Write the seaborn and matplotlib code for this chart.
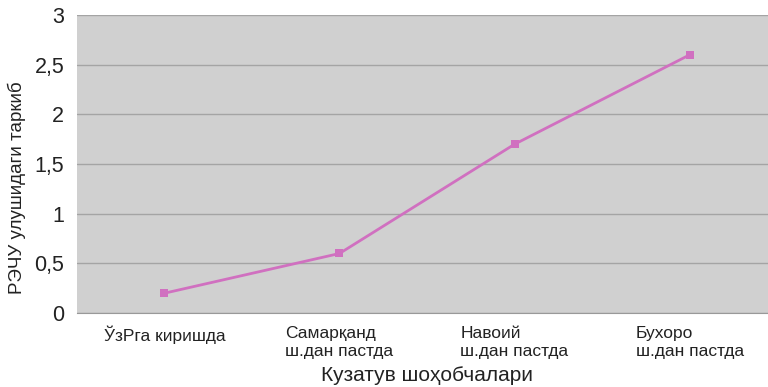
import pandas as pd
import matplotlib.pyplot as plt
import seaborn as sns

# data
stations = ['ЎзРга киришда', 'Самарқанд\nш.дан пастда', 'Навоий\nш.дан пастда', 'Бухоро\nш.дан пастда']
values = [0.2, 0.6, 1.7, 2.6]
yticks = [0, 0.5, 1, 1.5, 2, 2.5, 3]
ytick_labels = ['0', '0,5', '1', '1,5', '2', '2,5', '3']

df = pd.DataFrame({'station': range(len(stations)), 'value': values})

sns.set_style('white')
plt.rcParams['font.family'] = ['Liberation Sans', 'DejaVu Sans']

fig = plt.figure(figsize=(7.68, 3.87), dpi=100)
ax = fig.add_axes([0.1, 0.191, 0.912, 0.77])
ax.set_facecolor('#d0d0d0')

sns.lineplot(data=df, x='station', y='value', ax=ax, color='#d070c0',
             linewidth=2, marker='s', markersize=6, markeredgewidth=0)

ax.set_xlim(-0.5, len(stations) - 0.5)
ax.set_ylim(0, 3)
ax.set_yticks(yticks)
ax.set_yticklabels(ytick_labels, fontsize=15.5, color='#222222')
ax.set_xticks(range(len(stations)))
ax.set_xticklabels(stations, fontsize=12.5, color='#222222', ha='center',
                   multialignment='left', va='top', linespacing=1.25)
ax.tick_params(axis='x', length=0, pad=9)
ax.tick_params(axis='y', length=0, pad=9)
ax.grid(axis='y', color='#a4a4a4', linewidth=1)
ax.set_axisbelow(True)

for s in ['top', 'right', 'left']:
    ax.spines[s].set_visible(False)
ax.spines['bottom'].set_color('#999999')

ax.set_xlabel('Кузатув шоҳобчалари', fontsize=15, color='#222222', labelpad=5)
ax.set_ylabel('РЭЧУ улушидаги таркиб', fontsize=13.5, color='#222222')
ax.yaxis.set_label_coords(-0.073, 0.42)

fig.savefig('out.png', dpi=100)
